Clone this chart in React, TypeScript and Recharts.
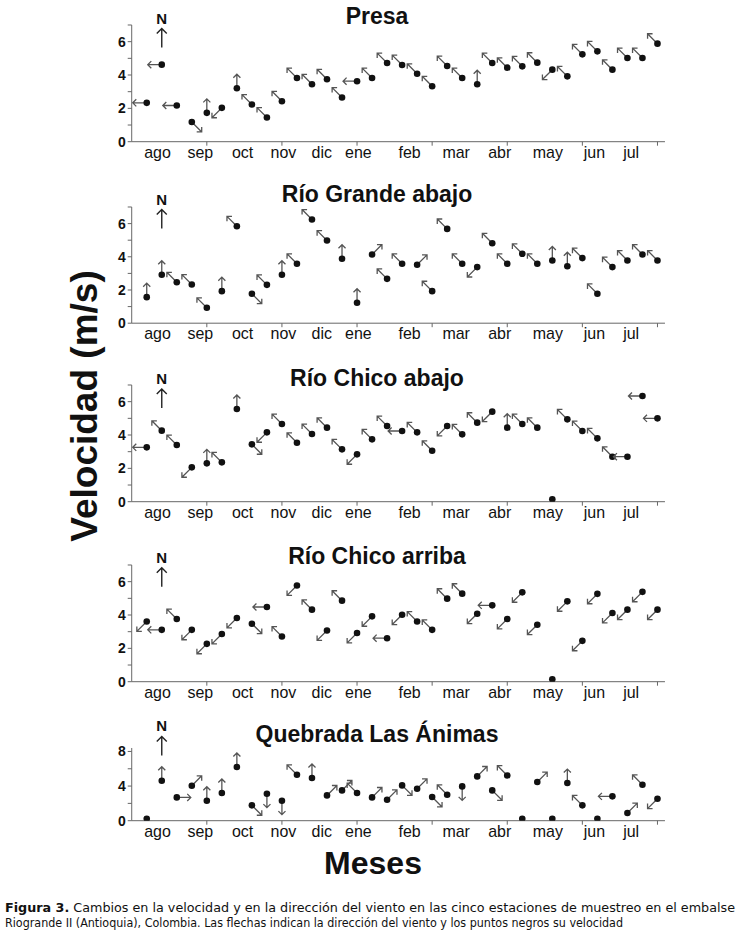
import React from "react";
import { ScatterChart, Scatter, XAxis, YAxis, ReferenceDot } from "recharts";

// month labels along the time axis (position in sampling units)
const months = ["ago", "sep", "oct", "nov", "dic", "ene", "feb", "mar", "abr", "may", "jun", "jul"];
const monthPos = [1.72, 4.57, 7.38, 10.1, 12.65, 15.09, 18.5, 21.6, 24.5, 27.7, 30.8, 33.25];
const tickMarks = [5, 10, 15, 20, 25, 30, 35];

// velocidad (m/s) and wind direction per sampling
const presaVel = [2.33, 4.62, 2.17, 1.18, 1.73, 2.03, 3.21, 2.23, 1.45, 2.43, 3.82, 3.45, 3.75, 2.65, 3.63, 3.82, 4.72, 4.6, 4.08, 3.33, 4.54, 3.82, 3.45, 4.72, 4.44, 4.52, 4.74, 4.32, 3.92, 5.24, 5.42, 4.32, 5.02, 5.02, 5.88];
const presaDir = ["W", "W", "W", "SE", "N", "SW", "N", "NW", "NW", "NW", "NW", "NW", "NW", "NW", "W", "NW", "NW", "NW", "NW", "NW", "NW", "NW", "N", "NW", "NW", "NW", "NW", "SW", "NW", "NW", "NW", "NW", "NW", "NW", "NW"];

const grandeVel = [1.57, 2.92, 2.47, 2.33, 0.93, 1.93, 5.84, 1.77, 2.31, 2.92, 3.58, 6.25, 4.98, 3.88, 1.23, 4.14, 2.67, 3.58, 3.52, 1.93, 5.68, 3.58, 3.38, 4.82, 3.58, 4.18, 3.58, 3.78, 3.43, 3.92, 1.77, 3.38, 3.78, 4.14, 3.78];
const grandeDir = ["N", "N", "NW", "NW", "NW", "N", "NW", "SE", "NW", "N", "NW", "NW", "NW", "N", "N", "NE", "NW", "NW", "NE", "NW", "NW", "NW", "SW", "NW", "NW", "NW", "NW", "N", "N", "NW", "NW", "NW", "NW", "NW", "NW"];

const chicoAbVel = [3.26, 4.26, 3.4, 2.06, 2.3, 2.36, 5.56, 3.44, 4.16, 4.66, 3.54, 4.06, 4.44, 3.14, 2.84, 3.74, 4.54, 4.24, 4.16, 3.06, 4.54, 4.04, 4.74, 5.4, 4.44, 4.66, 4.44, 0.14, 4.94, 4.24, 3.8, 2.7, 2.7, 6.34, 5.0];
const chicoAbDir = ["W", "NW", "NW", "SW", "N", "NW", "N", "SE", "SW", "NW", "NW", "NW", "NW", "NW", "SW", "NW", "NW", "W", "NW", "NW", "SW", "NW", "NW", "SW", "N", "NW", "NW", "", "NW", "NW", "NW", "NW", "W", "W", "W"];

const chicoArVel = [3.61, 3.11, 3.76, 3.11, 2.27, 2.86, 3.82, 3.48, 4.48, 2.71, 5.77, 4.32, 3.07, 4.86, 2.92, 3.92, 2.61, 4.02, 3.61, 3.11, 4.98, 5.28, 4.08, 4.58, 3.76, 5.36, 3.42, 0.14, 4.82, 2.45, 5.27, 4.12, 4.32, 5.39, 4.32];
const chicoArDir = ["SW", "W", "NW", "SW", "SW", "SW", "SW", "SE", "W", "NW", "SW", "NW", "SW", "NW", "SW", "SW", "W", "SW", "NW", "NW", "NW", "NW", "SW", "W", "SW", "SW", "SW", "", "SW", "SW", "SW", "SW", "SW", "SW", "SW"];

const animasVel = [0.23, 4.62, 2.69, 4.04, 2.31, 3.2, 6.2, 1.77, 3.12, 2.31, 5.31, 4.93, 2.92, 3.5, 3.2, 2.69, 2.42, 4.08, 3.69, 2.73, 3.0, 3.96, 5.12, 3.5, 5.23, 0.23, 4.47, 0.23, 4.35, 1.77, 0.23, 2.81, 0.89, 4.16, 2.54];
const animasDir = ["", "N", "E", "NE", "N", "N", "N", "SE", "S", "S", "NW", "N", "NE", "NE", "NW", "NE", "NE", "SE", "NE", "SE", "NW", "S", "NE", "SE", "NW", "", "NE", "", "N", "NW", "", "W", "NE", "NW", "SW"];

const VEC: Record<string, [number, number]> = {
  N: [0, -1], NE: [1, -1], E: [1, 0], SE: [1, 1],
  S: [0, 1], SW: [-1, 1], W: [-1, 0], NW: [-1, -1],
};

const PLOT_LEFT = 131.7;
const PLOT_RIGHT = 665;
const Y_AXIS_W = 40;
const M_TOP = 30;
const X_AXIS_H = 30;
const M_BOTTOM = 5;

const panels = [
  { title: "Presa", vel: presaVel, dir: presaDir, top: 25, bottom: 141.7, yMax: 7, yTicks: [0, 1, 2, 3, 4, 5, 6, 7], every: 2, compassY: 5.65, titleY: 24 },
  { title: "Río Grande abajo", vel: grandeVel, dir: grandeDir, top: 206.5, bottom: 322.7, yMax: 7, yTicks: [0, 1, 2, 3, 4, 5, 6, 7], every: 2, compassY: 5.7, titleY: 201.5 },
  { title: "Río Chico abajo", vel: chicoAbVel, dir: chicoAbDir, top: 385, bottom: 501.7, yMax: 7, yTicks: [0, 1, 2, 3, 4, 5, 6, 7], every: 2, compassY: 5.62, titleY: 386 },
  { title: "Río Chico arriba", vel: chicoArVel, dir: chicoArDir, top: 565, bottom: 681.7, yMax: 7, yTicks: [0, 1, 2, 3, 4, 5, 6, 7], every: 2, compassY: 5.7, titleY: 563.5 },
  { title: "Quebrada Las Ánimas", vel: animasVel, dir: animasDir, top: 748.3, bottom: 821, yMax: 8.4, yTicks: [0, 2, 4, 6, 8], every: 4, compassY: 7.54, titleY: 741.5 },
];

function WindMark(props: any) {
  const { cx, cy, payload } = props;
  const d = VEC[payload.dir];
  let arrow = null;
  if (d) {
    const n = Math.hypot(d[0], d[1]);
    const ux = d[0] / n;
    const uy = d[1] / n;
    const L = 14;
    const h = 5;
    const tx = cx + ux * L;
    const ty = cy + uy * L;
    const bx = -ux;
    const by = -uy;
    const c = Math.SQRT1_2;
    const r1x = c * (bx - by), r1y = c * (bx + by);
    const r2x = c * (bx + by), r2y = c * (by - bx);
    arrow = (
      <path
        d={`M${cx},${cy}L${tx},${ty}M${tx + h * r1x},${ty + h * r1y}L${tx},${ty}L${tx + h * r2x},${ty + h * r2y}`}
        stroke="#555"
        strokeWidth={1.3}
        fill="none"
      />
    );
  }
  return (
    <g>
      {arrow}
      <circle cx={cx} cy={cy} r={3.3} fill="#111" />
    </g>
  );
}

function Compass(props: any) {
  const { cx, cy } = props;
  const top = cy - 19;
  return (
    <g>
      <path d={`M${cx},${cy}L${cx},${top}M${cx - 5},${top + 5}L${cx},${top}L${cx + 5},${top + 5}`} stroke="#222" strokeWidth={1.4} fill="none" />
      <text x={cx} y={top - 5} textAnchor="middle" fontSize={15} fontWeight="bold" fill="#111" fontFamily="Liberation Sans, Arial, sans-serif">N</text>
    </g>
  );
}

function TimeTick(props: any) {
  const { x, y, payload } = props;
  const v = payload.value;
  const idx = monthPos.indexOf(v);
  return (
    <g>
      {tickMarks.includes(v) && <line x1={x} x2={x} y1={y} y2={y + 4} stroke="#666" />}
      {idx >= 0 && (
        <text x={x} y={y + 16} textAnchor="middle" fontSize={16} fill="#111" fontFamily="Liberation Sans, Arial, sans-serif">
          {months[idx]}
        </text>
      )}
    </g>
  );
}

const allTicks = [...tickMarks, ...monthPos].sort((a, b) => a - b);

function Panel({ p }: { p: (typeof panels)[number] }) {
  const data = p.vel.map((v, i) => ({ u: i + 1, v, dir: p.dir[i] }));
  const plotH = p.bottom - p.top;
  const height = plotH + M_TOP + X_AXIS_H + M_BOTTOM;
  return (
    <div style={{ position: "absolute", left: 0, top: p.top - M_TOP }}>
      <ScatterChart
        width={737}
        height={height}
        margin={{ top: M_TOP, right: 737 - PLOT_RIGHT, bottom: M_BOTTOM, left: PLOT_LEFT - Y_AXIS_W }}
      >
        <XAxis
          type="number"
          dataKey="u"
          domain={[0, 35.5]}
          ticks={allTicks}
          interval={0}
          tick={<TimeTick />}
          tickLine={false}
          tickSize={0}
          tickMargin={0}
          height={X_AXIS_H}
          stroke="#666"
          allowDataOverflow
        />
        <YAxis
          type="number"
          dataKey="v"
          domain={[0, p.yMax]}
          ticks={p.yTicks}
          interval={0}
          width={Y_AXIS_W}
          tickSize={4}
          tickMargin={2}
          stroke="#666"
          tickFormatter={(v: number) => (v % p.every === 0 ? String(v) : "")}
          tick={{ fontSize: 14, fontWeight: "bold", fill: "#111", fontFamily: "Liberation Sans, Arial, sans-serif" }}
          allowDataOverflow
        />
        <ReferenceDot x={2} y={p.compassY} r={0} shape={(sp: any) => <Compass {...sp} />} />
        <Scatter data={data} isAnimationActive={false} shape={(sp: any) => <WindMark {...sp} />} />
      </ScatterChart>
    </div>
  );
}

export default function App() {
  const font = "Liberation Sans, Arial, sans-serif";
  return (
    <div style={{ position: "absolute", left: 0, top: 0, width: 737, height: 934, background: "#fff", overflow: "hidden" }}>
      {panels.map((p) => (
        <Panel key={p.title} p={p} />
      ))}
      <svg width={737} height={934} style={{ position: "absolute", left: 0, top: 0, pointerEvents: "none" }}>
        {panels.map((p) => (
          <text key={p.title} x={377} y={p.titleY} textAnchor="middle" fontSize={23} fontWeight="bold" fill="#111" fontFamily={font}>
            {p.title}
          </text>
        ))}
        <text
          x={84}
          y={406}
          transform="rotate(-90 84 406)"
          textAnchor="middle"
          dominantBaseline="central"
          fontSize={37}
          fontWeight="bold"
          fill="#111"
          fontFamily={font}
        >
          Velocidad (m/s)
        </text>
        <text x={373} y={874} textAnchor="middle" fontSize={32} fontWeight="bold" fill="#111" fontFamily={font}>
          Meses
        </text>
        <text x={5} y={912} fontSize={12} fill="#111" fontFamily="DejaVu Sans Condensed, DejaVu Sans, sans-serif" textLength={730} lengthAdjust="spacingAndGlyphs">
          <tspan fontWeight="bold">Figura 3.</tspan> Cambios en la velocidad y en la dirección del viento en las cinco estaciones de muestreo en el embalse
        </text>
        <text x={5} y={927} fontSize={12} fill="#111" fontFamily="DejaVu Sans Condensed, DejaVu Sans, sans-serif" textLength={618} lengthAdjust="spacingAndGlyphs">
          Riogrande II (Antioquia), Colombia. Las flechas indican la dirección del viento y los puntos negros su velocidad
        </text>
      </svg>
    </div>
  );
}
